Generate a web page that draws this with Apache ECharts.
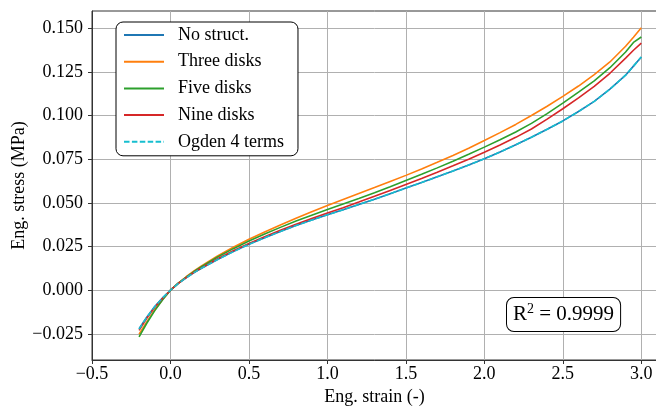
<!DOCTYPE html>
<html><head><meta charset="utf-8">
<script src="https://cdn.jsdelivr.net/npm/echarts@6/dist/echarts.min.js"></script>
<style>html,body{margin:0;padding:0;background:#fff}#c{width:656px;height:407px}</style>
</head><body><div id="c"></div>
<script>
const strain =     [-0.2, -0.15, -0.1, -0.05, 0, 0.05, 0.1, 0.15, 0.2, 0.3, 0.4, 0.5, 0.6, 0.7, 0.8, 0.9, 1.0, 1.1, 1.2, 1.3, 1.4, 1.5, 1.6, 1.7, 1.8, 1.9, 2.0, 2.1, 2.2, 2.3, 2.4, 2.5, 2.6, 2.7, 2.8, 2.9, 2.95, 3.0];
const noStruct =   [-0.0221, -0.0153, -0.0094, -0.0044, 0, 0.0039, 0.0071, 0.0101, 0.0127, 0.0176, 0.0221, 0.0263, 0.0301, 0.0337, 0.0371, 0.0402, 0.0432, 0.0461, 0.0491, 0.0521, 0.0553, 0.0585, 0.0617, 0.0650, 0.0683, 0.0717, 0.0753, 0.0792, 0.0833, 0.0877, 0.0922, 0.0970, 0.1024, 0.1082, 0.1152, 0.1232, 0.1284, 0.1336];
const threeDisks = [-0.0252, -0.0180, -0.0113, -0.0053, 0, 0.0041, 0.0077, 0.0110, 0.0140, 0.0196, 0.0246, 0.0292, 0.0334, 0.0374, 0.0412, 0.0449, 0.0486, 0.0520, 0.0554, 0.0588, 0.0623, 0.0658, 0.0695, 0.0733, 0.0772, 0.0814, 0.0858, 0.0903, 0.0950, 0.1001, 0.1054, 0.1111, 0.1170, 0.1235, 0.1308, 0.1398, 0.1450, 0.1504];
const fiveDisks =  [-0.0268, -0.0188, -0.0117, -0.0055, 0, 0.0040, 0.0075, 0.0107, 0.0136, 0.0190, 0.0238, 0.0282, 0.0322, 0.0360, 0.0396, 0.0430, 0.0462, 0.0494, 0.0526, 0.0559, 0.0593, 0.0629, 0.0664, 0.0701, 0.0739, 0.0779, 0.0820, 0.0862, 0.0907, 0.0956, 0.1012, 0.1072, 0.1135, 0.1200, 0.1275, 0.1365, 0.1420, 0.1451];
const nineDisks =  [-0.0230, -0.0160, -0.0098, -0.0046, 0, 0.0039, 0.0072, 0.0102, 0.0129, 0.0180, 0.0226, 0.0268, 0.0307, 0.0343, 0.0378, 0.0411, 0.0442, 0.0473, 0.0505, 0.0538, 0.0572, 0.0606, 0.0640, 0.0676, 0.0713, 0.0751, 0.0791, 0.0832, 0.0876, 0.0924, 0.0980, 0.1040, 0.1102, 0.1168, 0.1243, 0.1330, 0.1375, 0.1416];
const ogden4 =     [-0.0223, -0.0154, -0.0094, -0.0044, 0, 0.0039, 0.0071, 0.0101, 0.0127, 0.0176, 0.0221, 0.0263, 0.0301, 0.0337, 0.0371, 0.0402, 0.0432, 0.0461, 0.0491, 0.0521, 0.0553, 0.0585, 0.0617, 0.0650, 0.0683, 0.0717, 0.0753, 0.0792, 0.0833, 0.0877, 0.0922, 0.0970, 0.1024, 0.1082, 0.1152, 0.1232, 0.1284, 0.1336];
const seriesNames = ['No struct.', 'Three disks', 'Five disks', 'Nine disks', 'Ogden 4 terms'];
const xTicks = [-0.5, 0.0, 0.5, 1.0, 1.5, 2.0, 2.5, 3.0];
const yTicks = [-0.025, 0.000, 0.025, 0.050, 0.075, 0.100, 0.125, 0.150];

const FONT = 'Liberation Serif';
const pair = arr => strain.map((x, i) => [x, arr[i]]);
const minus = s => s.replace('-', '\u2212');
const colors = ['#1f77b4', '#ff7f0e', '#2ca02c', '#d62728', '#17becf'];
const datasets = [noStruct, threeDisks, fiveDisks, nineDisks, ogden4];

const chart = echarts.init(document.getElementById('c'), null, {renderer: 'canvas'});
chart.setOption({
  animation: false,
  backgroundColor: '#fff',
  textStyle: {fontFamily: FONT},
  grid: {left: 92, right: -1, top: 11, bottom: 47, outerBoundsMode: 'none', containLabel: false,
         show: true, borderColor: '#333', borderWidth: 1, backgroundColor: 'transparent'},
  xAxis: {
    type: 'value', min: -0.5, max: 3.1,
    name: 'Eng. strain (-)', nameLocation: 'middle', nameGap: 28, nameMoveOverlap: false,
    nameTextStyle: {fontFamily: FONT, fontSize: 18, color: '#000'},
    axisLine: {onZero: false, lineStyle: {color: '#333', width: 1}},
    axisTick: {inside: false, length: 4, lineStyle: {color: '#333'}, customValues: xTicks},
    axisLabel: {customValues: xTicks, margin: 5, fontFamily: FONT, fontSize: 18, color: '#000', formatter: v => minus(v.toFixed(1))},
    splitLine: {show: true, lineStyle: {color: '#b0b0b0', width: 1}}
  },
  yAxis: {
    type: 'value', min: -0.04, max: 0.16,
    name: 'Eng. stress (MPa)', nameLocation: 'middle', nameGap: 64, nameMoveOverlap: false,
    nameTextStyle: {fontFamily: FONT, fontSize: 18, color: '#000'},
    axisLine: {show: true, onZero: false, lineStyle: {color: '#333', width: 1}},
    axisTick: {show: true, inside: false, length: 4, lineStyle: {color: '#333'}, customValues: yTicks},
    axisLabel: {customValues: yTicks, margin: 9, fontFamily: FONT, fontSize: 18, color: '#000', formatter: v => minus(v.toFixed(3))},
    splitLine: {show: true, lineStyle: {color: '#b0b0b0', width: 1}}
  },
  legend: {
    orient: 'vertical', left: 116, top: 22,
    data: seriesNames,
    itemWidth: 40, itemHeight: 14, itemGap: 8.7,
    padding: [4, 14, 5, 7],
    itemStyle: {opacity: 0},
    backgroundColor: '#fff', borderColor: '#000', borderWidth: 1, borderRadius: 7,
    textStyle: {fontFamily: FONT, fontSize: 18, color: '#000', padding: [0, 0, 0, 9]}
  },
  series: seriesNames.map((name, i) => ({
    name, type: 'line', data: pair(datasets[i]),
    showSymbol: false, symbol: 'none', smooth: false,
    lineStyle: {color: colors[i], width: 1.6, type: i === 4 ? [5.5, 2.4] : 'solid'},
    itemStyle: {color: colors[i]},
    z: 2 + i
  })),
  graphic: [{
    type: 'text', left: 506, top: 297, z: 100,
    style: {
      text: '{a|R}{s|2}{a| = 0.9999}',
      rich: {
        a: {fontFamily: FONT, fontSize: 21, fill: '#000', lineHeight: 25},
        s: {fontFamily: FONT, fontSize: 14, fill: '#000', verticalAlign: 'top', lineHeight: 25}
      },
      backgroundColor: '#fff', borderColor: '#000', borderWidth: 1, borderRadius: 7,
      padding: [4, 6, 4, 6]
    }
  }]
});
</script></body></html>
